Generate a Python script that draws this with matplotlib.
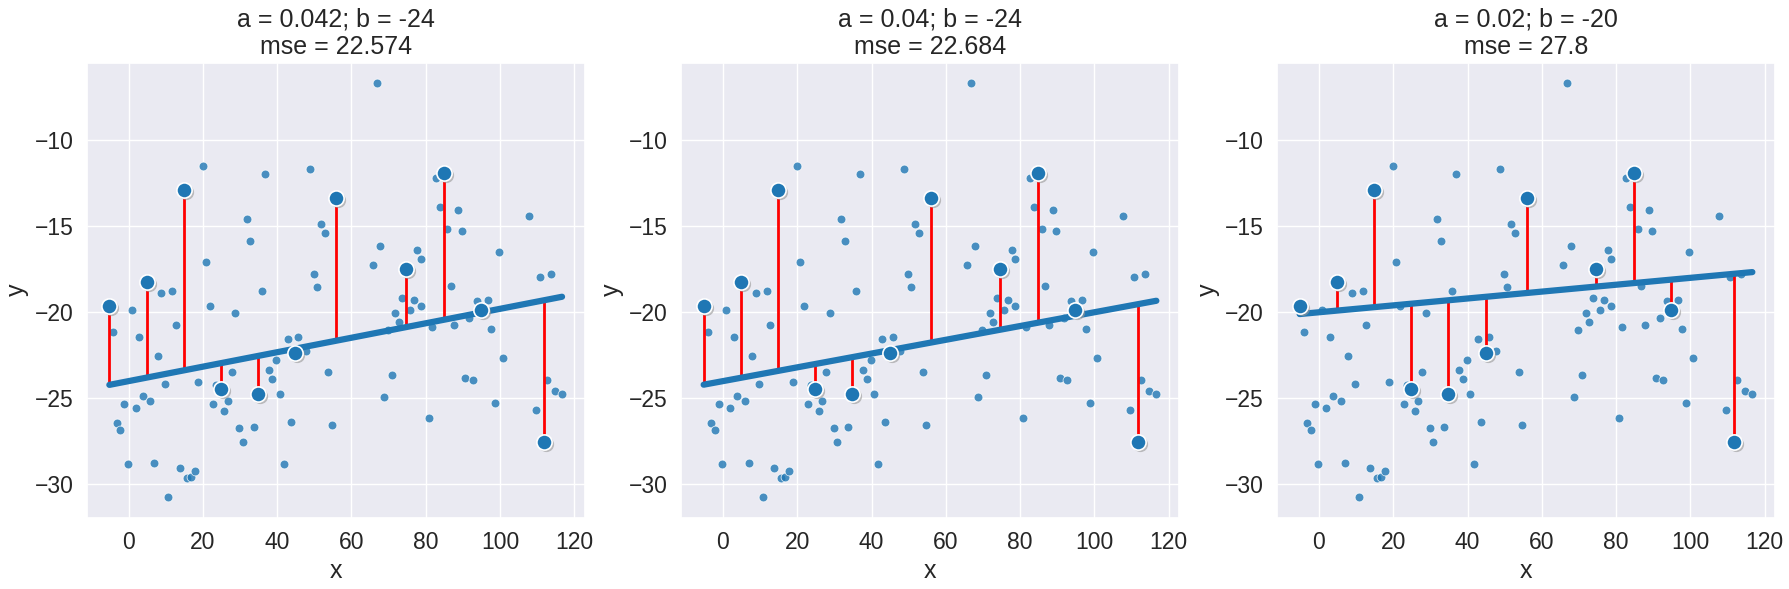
import matplotlib
matplotlib.use("Agg")
import matplotlib.pyplot as plt
import matplotlib.transforms as mtransforms
import seaborn as sns
import numpy as np

x_pts = [-4.1,0.8,2.9,-1.2,-3.1,-2.2,1.9,8.8,11.8,12.8,7.8,9.8,3.8,5.8,19.9,20.8,21.8,28.7,18.8,27.8,22.8,25.8,26.8,23.6,29.8,30.8,31.9,32.8,36.8,35.8,33.7,37.8,38.7,39.8,40.8,42.8,45.7,43.7,47.8,53.8,54.8,48.8,51.7,52.8,49.8,50.7,66.8,65.8,67.8,71.8,73.7,75.8,76.7,78.7,77.7,78.7,72.7,69.7,70.8,68.7,81.7,80.8,82.7,83.8,85.8,88.8,89.8,86.7,87.7,91.7,93.8,96.7,97.7,99.7,100.7,90.7,92.7,98.7,107.7,110.7,113.6,112.7,114.7,116.7,109.7,-0.2,6.9,13.8,15.7,16.8,17.8,10.7,41.8]
y_pts = [-21.15,-19.86,-21.44,-25.34,-26.44,-26.85,-25.56,-18.87,-18.75,-20.76,-22.54,-24.14,-24.84,-25.15,-11.49,-17.07,-19.66,-20.07,-24.04,-23.45,-25.34,-25.75,-25.15,-24.24,-26.75,-27.55,-14.58,-15.87,-11.99,-18.75,-26.65,-23.35,-23.86,-22.75,-24.74,-21.55,-21.45,-26.35,-22.25,-23.45,-26.56,-11.68,-14.89,-15.37,-17.77,-18.56,-6.7,-17.27,-16.17,-20.07,-19.16,-19.86,-19.26,-19.66,-16.38,-16.88,-20.55,-21.05,-23.64,-24.95,-20.86,-26.15,-12.2,-13.9,-15.18,-14.08,-15.28,-18.46,-20.76,-20.36,-19.35,-19.26,-20.95,-16.47,-22.65,-23.84,-23.94,-25.25,-14.39,-17.98,-17.77,-23.95,-24.55,-24.75,-25.66,-28.84,-28.75,-29.04,-29.65,-29.56,-29.25,-30.73,-28.84]
x_sel = [-5.2,4.9,14.9,24.8,34.8,44.9,55.9,74.7,84.8,94.8,111.8]
y_sel = [-19.66,-18.25,-12.88,-24.47,-24.74,-22.35,-13.37,-17.48,-11.9,-19.86,-27.55]
a_vals = [0.042, 0.04, 0.02]
b_vals = [-24, -24, -20]
mse_labels = ["22.574", "22.684", "27.8"]
a_labels = ["0.042", "0.04", "0.02"]
b_labels = ["-24", "-24", "-20"]

BLUE = "#1f77b4"
sns.set_theme(style="darkgrid", font_scale=1.5)
plt.rcParams["font.family"] = "Liberation Sans"

fig = plt.figure(figsize=(17.89, 5.89), dpi=100)
W, H = 1789, 589
lefts = [86.7, 681, 1277]
for i in range(3):
    ax = fig.add_axes([lefts[i]/W, 1-517.6/H, 498/W, (517.6-62.7)/H])
    a, b = a_vals[i], b_vals[i]
    ax.scatter(x_pts, y_pts, s=40, color=BLUE, alpha=0.8, edgecolor="white", linewidth=0.6, zorder=2)
    xl = np.array([min(x_sel), max(x_pts)])
    ax.plot(xl, a*xl+b, color=BLUE, lw=4.5, zorder=3, solid_capstyle="round")
    for xs, ys in zip(x_sel, y_sel):
        ax.plot([xs, xs], [ys, a*xs+b], color="red", lw=2, zorder=2.5)
    shadow = ax.transData + mtransforms.ScaledTranslation(2/100, -2/100, fig.dpi_scale_trans)
    ax.scatter(x_sel, y_sel, s=120, color="#999999", alpha=0.6, linewidth=0, transform=shadow, zorder=4)
    ax.scatter(x_sel, y_sel, s=120, color=BLUE, edgecolor="white", linewidth=1.2, zorder=5)
    ax.set_xlim(-11.3, 122.8)
    ax.set_ylim(-31.93, -5.5)
    ax.set_xticks([0, 20, 40, 60, 80, 100, 120])
    ax.set_yticks([-30, -25, -20, -15, -10])
    ax.set_xlabel("x")
    ax.set_ylabel("y")
    ax.set_title(f"a = {a_labels[i]}; b = {b_labels[i]}\nmse = {mse_labels[i]}")

fig.savefig("out.png", dpi=100)
